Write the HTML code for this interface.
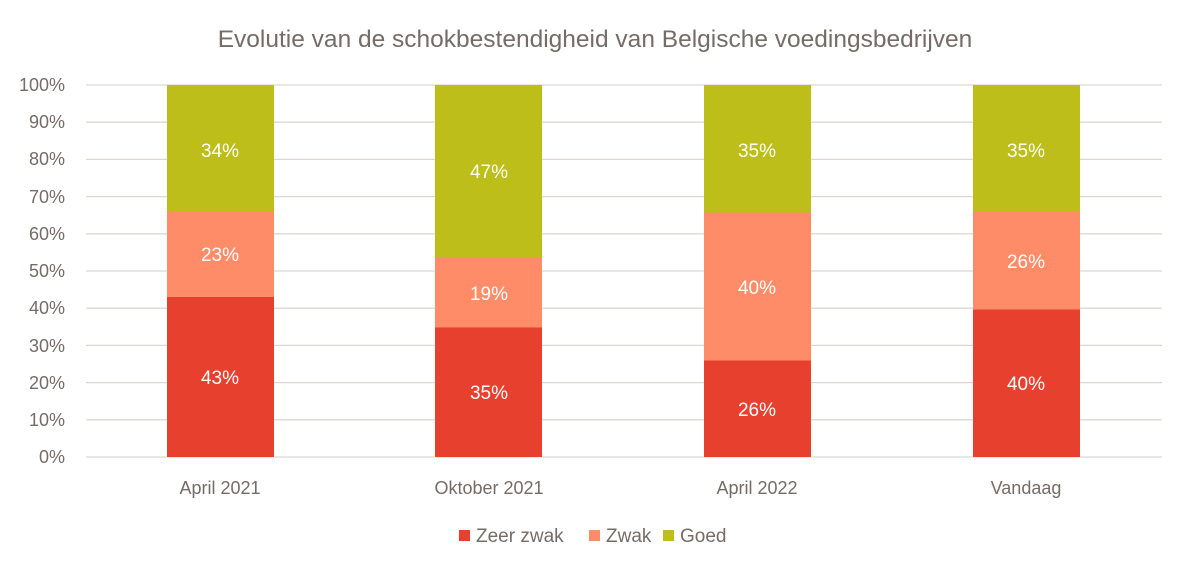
<!DOCTYPE html>
<html><head><meta charset="utf-8"><style>body{margin:0;background:#fff}svg{display:block}text{font-family:"Liberation Sans",sans-serif}</style></head><body>
<svg width="1190" height="572" xmlns="http://www.w3.org/2000/svg">
<text x="595" y="47" text-anchor="middle" font-size="24.5" fill="#766c67">Evolutie van de schokbestendigheid van Belgische voedingsbedrijven</text>
<g stroke="#dcd8d6" stroke-width="1.3">
<line x1="86" x2="1162" y1="85" y2="85"/><line x1="86" x2="1162" y1="122.2" y2="122.2"/><line x1="86" x2="1162" y1="159.4" y2="159.4"/><line x1="86" x2="1162" y1="196.6" y2="196.6"/><line x1="86" x2="1162" y1="233.8" y2="233.8"/><line x1="86" x2="1162" y1="271" y2="271"/><line x1="86" x2="1162" y1="308.2" y2="308.2"/><line x1="86" x2="1162" y1="345.4" y2="345.4"/><line x1="86" x2="1162" y1="382.6" y2="382.6"/><line x1="86" x2="1162" y1="419.8" y2="419.8"/><line x1="86" x2="1162" y1="457" y2="457"/>
</g>
<g font-size="18" fill="#766c67" text-anchor="end">
<text x="65" y="91">100%</text><text x="65" y="128">90%</text><text x="65" y="165">80%</text><text x="65" y="203">70%</text><text x="65" y="240">60%</text><text x="65" y="277">50%</text><text x="65" y="314">40%</text><text x="65" y="352">30%</text><text x="65" y="389">20%</text><text x="65" y="426">10%</text><text x="65" y="463">0%</text>
</g>
<g>
<rect x="167" y="85" width="107" height="126.5" fill="#bdbe1a"/><rect x="167" y="211.5" width="107" height="85.5" fill="#ff8c69"/><rect x="167" y="297" width="107" height="160" fill="#e8402f"/>
<rect x="435" y="85" width="107" height="172" fill="#bdbe1a"/><rect x="435" y="257" width="107" height="70.5" fill="#ff8c69"/><rect x="435" y="327.5" width="107" height="129.5" fill="#e8402f"/>
<rect x="704" y="85" width="107" height="127.5" fill="#bdbe1a"/><rect x="704" y="212.5" width="107" height="148" fill="#ff8c69"/><rect x="704" y="360.5" width="107" height="96.5" fill="#e8402f"/>
<rect x="973" y="85" width="107" height="126.5" fill="#bdbe1a"/><rect x="973" y="211.5" width="107" height="98" fill="#ff8c69"/><rect x="973" y="309.5" width="107" height="147.5" fill="#e8402f"/>
</g>
<g font-size="19" fill="#fff" text-anchor="middle">
<text x="220" y="157">34%</text><text x="220" y="261">23%</text><text x="220" y="384">43%</text>
<text x="489" y="178">47%</text><text x="489" y="300">19%</text><text x="489" y="399">35%</text>
<text x="757" y="157">35%</text><text x="757" y="294">40%</text><text x="757" y="416">26%</text>
<text x="1026" y="157">35%</text><text x="1026" y="268">26%</text><text x="1026" y="390">40%</text>
</g>
<g font-size="18" fill="#766c67" text-anchor="middle">
<text x="220" y="494">April 2021</text><text x="489" y="494">Oktober 2021</text><text x="757" y="494">April 2022</text><text x="1026" y="494">Vandaag</text>
</g>
<g font-size="19" fill="#766c67">
<rect x="459" y="530" width="11" height="11" fill="#e8402f"/><text x="476" y="542">Zeer zwak</text>
<rect x="589" y="530" width="11" height="11" fill="#ff8c69"/><text x="606" y="542">Zwak</text>
<rect x="663" y="530" width="11" height="11" fill="#bdbe1a"/><text x="680" y="542">Goed</text>
</g>
</svg>
</body></html>
